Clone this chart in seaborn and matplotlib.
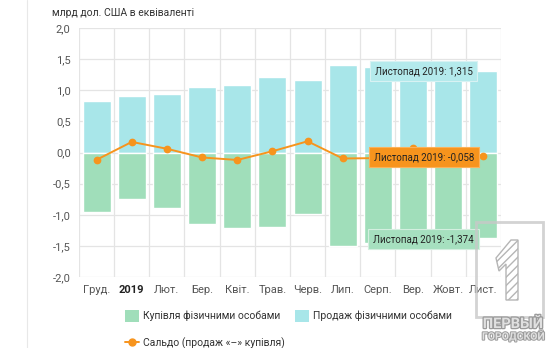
import matplotlib
matplotlib.use("Agg")
import matplotlib.pyplot as plt
import matplotlib.patheffects as pe
from matplotlib.patches import Patch, Rectangle, Polygon
from matplotlib.lines import Line2D
from matplotlib.ticker import FixedLocator, FuncFormatter
import seaborn as sns
import pandas as pd

months = ["Груд.", "2019", "Лют.", "Бер.", "Квіт.", "Трав.", "Черв.",
          "Лип.", "Серп.", "Вер.", "Жовт.", "Лист."]
sales = [0.83, 0.91, 0.945, 1.06, 1.09, 1.21, 1.16, 1.405, 1.38, 1.35, 1.33, 1.315]
purchases = [-0.955, -0.747, -0.886, -1.143, -1.212, -1.196, -0.993,
             -1.506, -1.45, -1.40, -1.36, -1.374]
saldo = [-0.117, 0.17, 0.06, -0.08, -0.12, 0.02, 0.18, -0.096, -0.09, 0.08, -0.03, -0.058]
y_ticks = [-2.0, -1.5, -1.0, -0.5, 0.0, 0.5, 1.0, 1.5, 2.0]

CYAN = "#a8e6e9"
GREEN = "#a0deba"
ORANGE = "#f7941d"

df = pd.DataFrame({"month": months, "sales": sales, "purchases": purchases, "saldo": saldo})

sns.set_theme(style="white")
plt.rcParams["font.family"] = ["Roboto", "DejaVu Sans"]

fig = plt.figure(figsize=(5.52, 3.48), dpi=100)
ax = fig.add_axes([79 / 552, 1 - 277 / 348, 422 / 552, 249 / 348])

sns.barplot(data=df, x="month", y="sales", color=CYAN, width=0.8,
            saturation=1, ax=ax, zorder=2)
sns.barplot(data=df, x="month", y="purchases", color=GREEN, width=0.8,
            saturation=1, ax=ax, zorder=2)
sns.pointplot(data=df, x="month", y="saldo", color=ORANGE, ax=ax,
              markers="o", markersize=4.5, linewidth=1.4, zorder=4)

ax.set_xlim(-0.5, 11.5)
ax.set_ylim(-2.0, 2.0)
ax.set_yticks(y_ticks)
ax.yaxis.set_major_formatter(FuncFormatter(lambda v, p: f"{v:.1f}".replace(".", ",")))
ax.xaxis.set_minor_locator(FixedLocator([i - 0.5 for i in range(13)]))
ax.grid(axis="y", which="major", color="#e4e4e4", linewidth=0.9, zorder=0)
ax.grid(axis="x", which="minor", color="#e4e4e4", linewidth=0.9, zorder=0)
ax.set_axisbelow(True)
for s in ax.spines.values():
    s.set_visible(False)
ax.set_xlabel("")
ax.set_ylabel("")
ax.tick_params(axis="both", which="both", length=0, labelsize=8, colors="#555555")
ax.tick_params(axis="y", pad=6)
ax.tick_params(axis="x", pad=6)
for lbl in ax.get_xticklabels():
    if lbl.get_text() == "2019":
        lbl.set_fontweight("bold")
        lbl.set_color("#222222")

fig.text(52 / 552, 1 - 13 / 348, "млрд дол. США в еквіваленті", fontsize=7.5,
         color="#333333", ha="left", va="center")

# tooltips
ax.text(9.3, 1.31, "Листопад 2019: 1,315", fontsize=7, color="#222222",
        ha="center", va="center", zorder=6,
        bbox=dict(boxstyle="square,pad=0.5", fc="#b4eaec", ec="#d8f2f3", lw=0.8))
ax.text(9.3, -0.07, "Листопад 2019: -0,058", fontsize=7, color="#222222",
        ha="center", va="center", zorder=6,
        bbox=dict(boxstyle="square,pad=0.5", fc=ORANGE, ec="#fbb15a", lw=0.8))
ax.text(9.3, -1.387, "Листопад 2019: -1,374", fontsize=7, color="#222222",
        ha="center", va="center", zorder=6,
        bbox=dict(boxstyle="square,pad=0.5", fc="#a6e0bf", ec="#d3efdf", lw=0.8))

# legend
handles = [Patch(facecolor=GREEN, edgecolor="none"),
           Line2D([0], [0], color=ORANGE, marker="o", markersize=5, linewidth=1.4),
           Patch(facecolor=CYAN, edgecolor="none")]
labels = ["Купівля фізичними особами", "Сальдо (продаж «–» купівля)",
          "Продаж фізичними особами"]
fig.legend(handles, labels, loc="upper left", bbox_to_anchor=(120 / 552, 1 - 305 / 348),
           ncol=2, frameon=False, fontsize=7.5, handlelength=1.3, handleheight=1.3,
           handletextpad=0.4, labelspacing=1.55, columnspacing=1.0, borderpad=0,
           labelcolor="#333333")

# frame line at left
fig.add_artist(Line2D([27 / 552, 27 / 552], [0, 1], color="#e8e8e8", lw=0.8,
                      transform=fig.transFigure))

# watermark
def fp(x, y):
    return (x / 552, 1 - y / 348)

fig.add_artist(Rectangle(fp(476, 317), 67 / 552, 95 / 348,
                         transform=fig.transFigure, fill=False, ec="#c8c8c8",
                         lw=2.0, alpha=0.8, zorder=10))
one = Polygon([fp(496, 258), fp(511, 240), fp(518, 240), fp(518, 300),
               fp(506, 300), fp(506, 264), fp(499, 271)],
              closed=True, transform=fig.transFigure, fc="white", ec="#b5b5b5",
              lw=1.0, hatch="////", zorder=11)
fig.add_artist(one)
fig.text(513 / 552, 1 - 324 / 348, "ПЕРВЫЙ", fontsize=10.5, fontweight="bold",
         color="#e0e0e0", ha="center", va="center", zorder=11,
         path_effects=[pe.withStroke(linewidth=1.8, foreground="#9a9a9a")])
fig.text(513 / 552, 1 - 336 / 348, "ГОРОДСКОЙ", fontsize=7.5, fontweight="bold",
         color="#e0e0e0", ha="center", va="center", zorder=11,
         path_effects=[pe.withStroke(linewidth=1.4, foreground="#9a9a9a")])

fig.savefig("out.png", dpi=100)
